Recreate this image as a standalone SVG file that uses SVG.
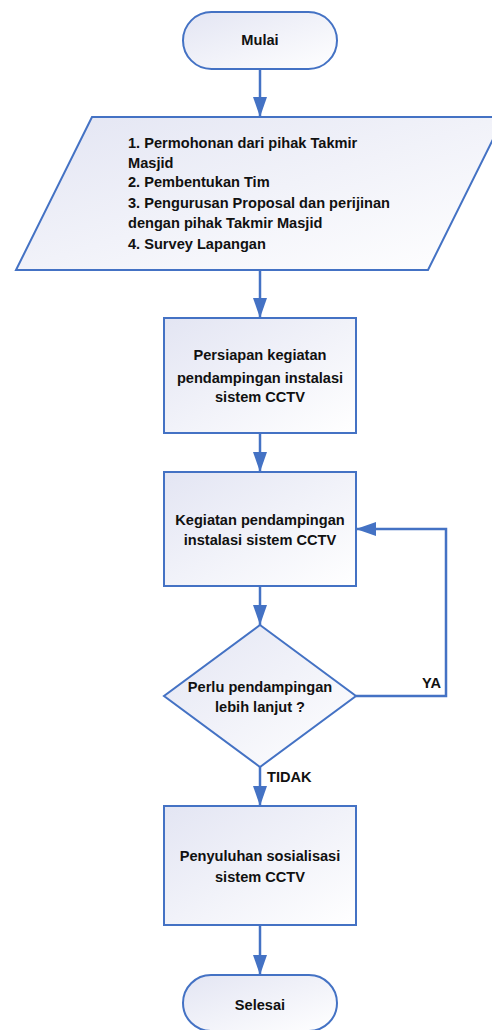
<svg xmlns="http://www.w3.org/2000/svg" width="492" height="1030" viewBox="0 0 492 1030">
<defs>
<linearGradient id="fillg" x1="0" y1="0" x2="1" y2="1">
<stop offset="0" stop-color="#e3e5f3"/>
<stop offset="1" stop-color="#ffffff"/>
</linearGradient>
<marker id="arr" markerUnits="userSpaceOnUse" markerWidth="20" markerHeight="14" refX="20" refY="7" orient="auto">
<path d="M0,0 L20,7 L0,14 z" fill="#4472C4"/>
</marker>
</defs>
<style>
.shape{fill:url(#fillg);stroke:#4472C4;stroke-width:2}
.conn{fill:none;stroke:#4472C4;stroke-width:2.5;marker-end:url(#arr)}
text{font-family:"Liberation Sans",Arial,sans-serif;font-weight:bold;font-size:14.6px;fill:#111111}
.c{text-anchor:middle}
</style>
<rect width="492" height="1030" fill="#ffffff"/>
<g id="connectors">
<path class="conn" d="M260,69 L260,117"/>
<path class="conn" d="M260,270 L260,318"/>
<path class="conn" d="M260,433 L260,472"/>
<path class="conn" d="M260,586 L260,625"/>
<path class="conn" d="M356,696 L446,696 L446,529 L356,529"/>
<path class="conn" d="M260,767 L260,806"/>
<path class="conn" d="M260,925 L260,975"/>
<text x="422" y="688">YA</text>
<text x="267" y="782">TIDAK</text>
</g>
<g id="mulai">
<rect class="shape" x="183" y="12" width="154" height="57" rx="28.5"/>
<text class="c" x="260" y="45">Mulai</text>
</g>
<g id="input">
<polygon class="shape" points="92,117 504,117 428,270 16,270"/>
<text x="128" y="148">1. Permohonan dari pihak Takmir</text>
<text x="128" y="168">Masjid</text>
<text x="128" y="187">2. Pembentukan Tim</text>
<text x="128" y="208">3. Pengurusan Proposal dan perijinan</text>
<text x="128" y="228">dengan pihak Takmir Masjid</text>
<text x="128" y="249">4. Survey Lapangan</text>
</g>
<g id="persiapan">
<rect class="shape" x="164" y="318" width="192" height="115"/>
<text class="c" x="260" y="360">Persiapan kegiatan</text>
<text class="c" x="260" y="383">pendampingan instalasi</text>
<text class="c" x="260" y="402">sistem CCTV</text>
</g>
<g id="kegiatan">
<rect class="shape" x="164" y="472" width="192" height="114"/>
<text class="c" x="260" y="525">Kegiatan pendampingan</text>
<text class="c" x="260" y="545">instalasi sistem CCTV</text>
</g>
<g id="keputusan">
<polygon class="shape" points="260,625 356,696 260,767 164,696"/>
<text class="c" x="260" y="692">Perlu pendampingan</text>
<text class="c" x="260" y="712">lebih lanjut ?</text>
</g>
<g id="penyuluhan">
<rect class="shape" x="164" y="806" width="192" height="119"/>
<text class="c" x="260" y="861">Penyuluhan sosialisasi</text>
<text class="c" x="260" y="882">sistem CCTV</text>
</g>
<g id="selesai">
<rect class="shape" x="183" y="975" width="154" height="56" rx="28"/>
<text class="c" x="260" y="1010">Selesai</text>
</g>
</svg>
